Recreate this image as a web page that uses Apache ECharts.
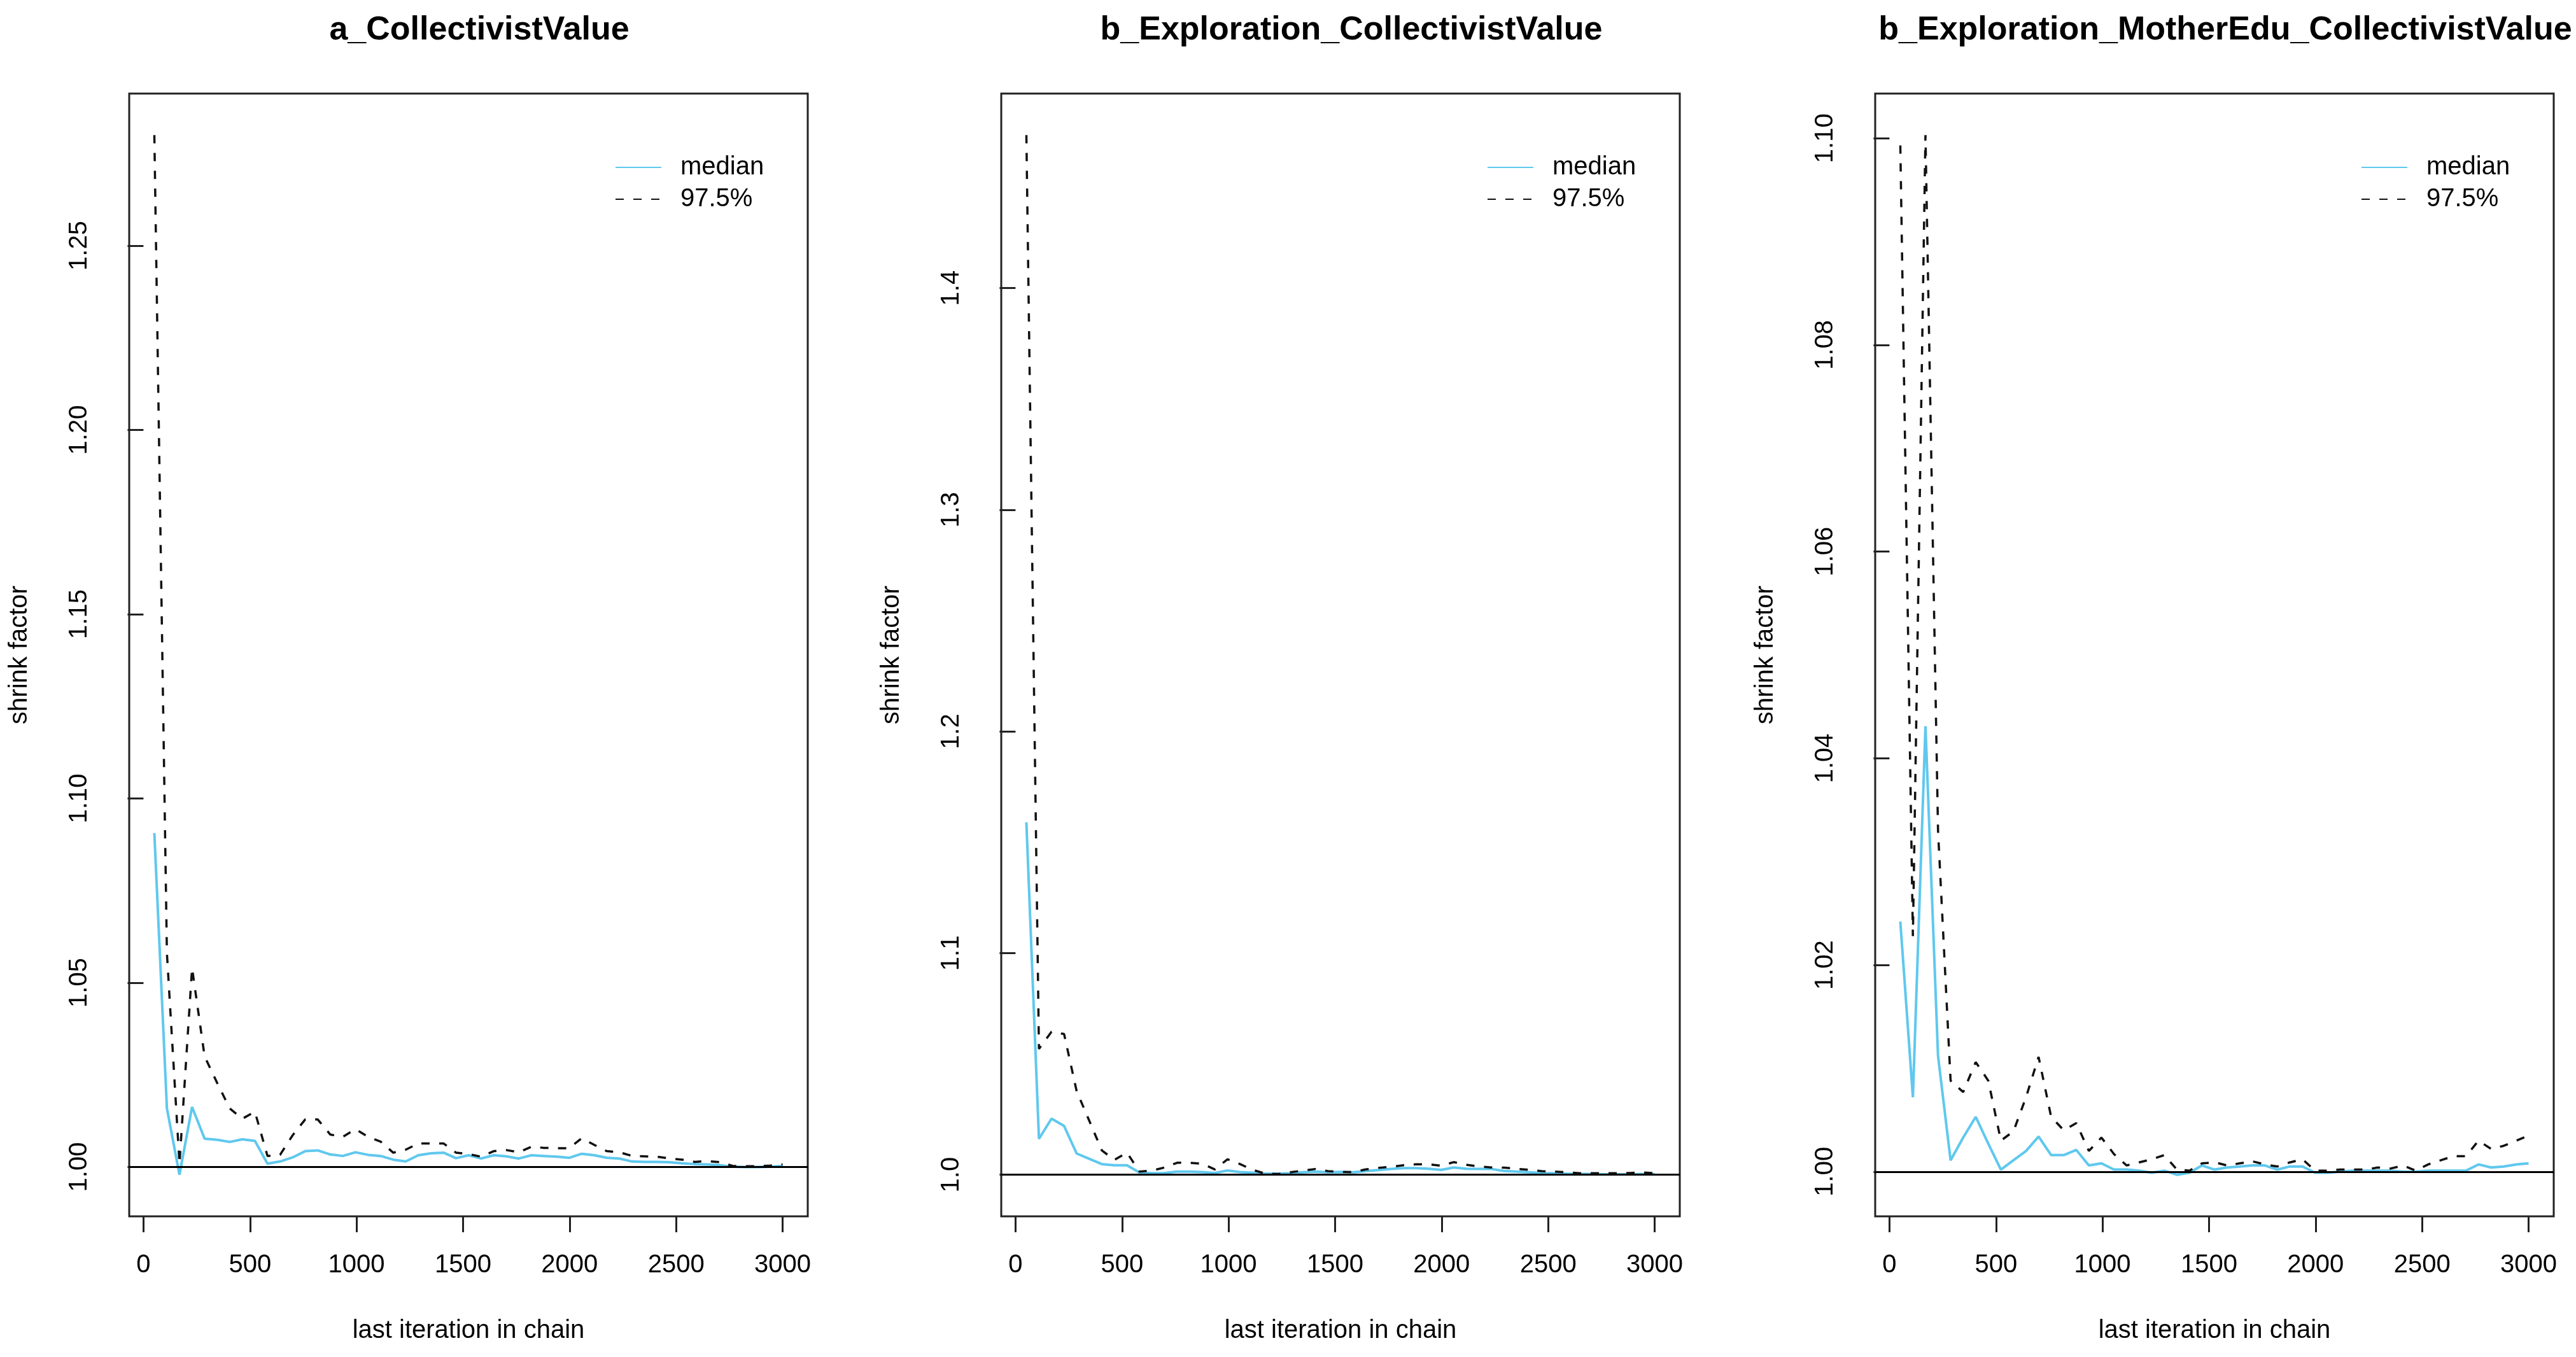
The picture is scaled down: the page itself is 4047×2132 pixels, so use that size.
<!DOCTYPE html>
<html>
<head>
<meta charset="utf-8">
<title>Gelman shrink factor plots</title>
<script src="https://cdn.jsdelivr.net/npm/echarts@6.0.0/dist/echarts.min.js"></script>
<style>
  html, body { margin: 0; padding: 0; background: #ffffff; }
  #chart { width: 4047px; height: 2132px; }
</style>
</head>
<body>
<div id="chart"></div>
<script>
// last iteration of each bin (x values, shared by all three panels)
const lastIteration = [
  51, 110, 169, 228, 287, 346, 405, 464, 523, 582, 641, 700, 759, 818, 877, 936, 995,
  1054, 1113, 1172, 1231, 1290, 1349, 1408, 1467, 1526, 1585, 1644, 1703, 1762, 1821,
  1880, 1939, 1998, 2057, 2116, 2175, 2234, 2293, 2352, 2411, 2470, 2529, 2588, 2647,
  2706, 2765, 2824, 2883, 2942, 3000
];
const xTicks = [0, 500, 1000, 1500, 2000, 2500, 3000];

const panelTitles = [
  'a_CollectivistValue',
  'b_Exploration_CollectivistValue',
  'b_Exploration_MotherEdu_CollectivistValue'
];

// a_CollectivistValue
const aMedian = [
  1.0906, 1.0159, 0.9979, 1.0163, 1.0077, 1.0074, 1.0068, 1.0075, 1.0071, 1.0009, 1.0015,
  1.0026, 1.0043, 1.0045, 1.0034, 1.0030, 1.0040, 1.0033, 1.0030, 1.0020, 1.0015, 1.0032,
  1.0037, 1.0039, 1.0024, 1.0032, 1.0023, 1.0032, 1.0029, 1.0023, 1.0032, 1.0030, 1.0028,
  1.0025, 1.0036, 1.0032, 1.0025, 1.0023, 1.0015, 1.0014, 1.0014, 1.0013, 1.0010, 1.0008,
  1.0007, 1.0005, 1.0001, 1.0000, 1.0000, 1.0001, 1.0003
];
const aUpper = [
  1.2800, 1.0580, 1.0009, 1.0540, 1.0300, 1.0228, 1.0159, 1.0131, 1.0150, 1.0030, 1.0033,
  1.0086, 1.0129, 1.0129, 1.0088, 1.0082, 1.0103, 1.0082, 1.0069, 1.0039, 1.0047, 1.0064,
  1.0064, 1.0064, 1.0039, 1.0035, 1.0028, 1.0043, 1.0046, 1.0040, 1.0055, 1.0052, 1.0051,
  1.0051, 1.0078, 1.0060, 1.0043, 1.0040, 1.0030, 1.0029, 1.0028, 1.0023, 1.0020, 1.0014,
  1.0016, 1.0013, 1.0003, 1.0002, 1.0002, 1.0004, 1.0007
];
const aTicks = [1.00, 1.05, 1.10, 1.15, 1.20, 1.25];

// b_Exploration_CollectivistValue
const bMedian = [
  1.1590, 1.0162, 1.0253, 1.0220, 1.0096, 1.0072, 1.0048, 1.0043, 1.0043, 1.0010, 1.0007,
  1.0008, 1.0014, 1.0014, 1.0012, 1.0008, 1.0019, 1.0012, 1.0009, 1.0005, 1.0005, 1.0007,
  1.0011, 1.0014, 1.0011, 1.0013, 1.0011, 1.0016, 1.0021, 1.0026, 1.0030, 1.0030, 1.0027,
  1.0022, 1.0033, 1.0027, 1.0026, 1.0026, 1.0017, 1.0014, 1.0011, 1.0008, 1.0007, 1.0005,
  1.0004, 1.0003, 1.0002, 1.0002, 1.0002, 1.0003, 1.0003
];
const bUpper = [
  1.4690, 1.0568, 1.0645, 1.0635, 1.0377, 1.0244, 1.0110, 1.0067, 1.0100, 1.0014, 1.0019,
  1.0033, 1.0054, 1.0054, 1.0050, 1.0024, 1.0070, 1.0048, 1.0022, 1.0005, 1.0003, 1.0011,
  1.0019, 1.0026, 1.0016, 1.0013, 1.0012, 1.0024, 1.0031, 1.0036, 1.0043, 1.0047, 1.0047,
  1.0041, 1.0057, 1.0045, 1.0037, 1.0033, 1.0032, 1.0027, 1.0022, 1.0016, 1.0014, 1.0011,
  1.0007, 1.0007, 1.0007, 1.0007, 1.0008, 1.0010, 1.0007
];
const bTicks = [1.0, 1.1, 1.2, 1.3, 1.4];

// b_Exploration_MotherEdu_CollectivistValue
const cMedian = [
  1.0242, 1.0072, 1.0431, 1.0112, 1.0011, 1.0033, 1.0053, 1.0027, 1.0002, 1.0011, 1.0020,
  1.0034, 1.0016, 1.0016, 1.0021, 1.0006, 1.0008, 1.0002, 1.0002, 1.0001, 0.9999, 1.0001,
  0.9997, 0.9999, 1.0006, 1.0002, 1.0004, 1.0005, 1.0006, 1.0006, 1.0002, 1.0005, 1.0005,
  0.9999, 0.9999, 1.0000, 1.0001, 1.0001, 1.0001, 1.0001, 1.0000, 1.0000, 1.0001, 1.0001,
  1.0001, 1.0001, 1.0007, 1.0004, 1.0005, 1.0007, 1.0008
];
const cUpper = [
  1.0993, 1.0228, 1.1003, 1.0330, 1.0088, 1.0077, 1.0106, 1.0088, 1.0030, 1.0039, 1.0072,
  1.0111, 1.0053, 1.0040, 1.0047, 1.0020, 1.0033, 1.0017, 1.0006, 1.0009, 1.0012, 1.0016,
  1.0002, 1.0001, 1.0008, 1.0009, 1.0006, 1.0008, 1.0010, 1.0007, 1.0005, 1.0009, 1.0012,
  1.0001, 1.0001, 1.0002, 1.0002, 1.0002, 1.0004, 1.0003, 1.0006, 1.0001, 1.0007, 1.0011,
  1.0015, 1.0015, 1.0030, 1.0022, 1.0025, 1.0030, 1.0035
];
const cTicks = [1.00, 1.02, 1.04, 1.06, 1.08, 1.10];

const panels = [
  { title: panelTitles[0], median: aMedian, upper: aUpper, ticks: aTicks, digits: 2 },
  { title: panelTitles[1], median: bMedian, upper: bUpper, ticks: bTicks, digits: 1 },
  { title: panelTitles[2], median: cMedian, upper: cUpper, ticks: cTicks, digits: 2 }
];

const FONT = '"Liberation Sans", Arial, Helvetica, sans-serif';
const MEDIAN_COLOR = '#5fc8ee';
const boxLeft = [203, 1573, 2946];
const boxTop = 147;
const boxWidth = 1066;
const boxHeight = 1764;

// R style axis range: data range stretched by 4% on each side
function rRange(values) {
  const lo = Math.min(...values);
  const hi = Math.max(...values);
  const pad = (hi - lo) * 0.04;
  return [lo - pad, hi + pad];
}

const xRange = rRange(lastIteration);

const chart = echarts.init(document.getElementById('chart'), null, { renderer: 'canvas' });

const grid = [], xAxis = [], yAxis = [], series = [], title = [], legend = [];

panels.forEach((p, i) => {
  const yRange = rRange([1].concat(p.median, p.upper));

  grid.push({
    left: boxLeft[i], top: boxTop, width: boxWidth, height: boxHeight,
    show: true, borderColor: '#222', borderWidth: 3, backgroundColor: 'transparent'
  });

  title.push({
    text: p.title,
    left: boxLeft[i] + boxWidth / 2 + 12,
    top: 17,
    textAlign: 'center',
    textStyle: { fontFamily: FONT, fontSize: 52, fontWeight: 'bold', color: '#000' }
  });

  xAxis.push({
    type: 'value', gridIndex: i, min: xRange[0], max: xRange[1],
    name: 'last iteration in chain', nameLocation: 'middle', nameGap: 160,
    nameTextStyle: { fontFamily: FONT, fontSize: 40, color: '#000' },
    axisLine: { show: false },
    splitLine: { show: false },
    axisTick: { show: true, inside: false, length: 25, customValues: xTicks,
      lineStyle: { color: '#222', width: 3 } },
    axisLabel: { customValues: xTicks, margin: 57, fontFamily: FONT, fontSize: 40, color: '#000',
      formatter: v => String(v) }
  });

  yAxis.push({
    type: 'value', gridIndex: i, min: yRange[0], max: yRange[1],
    name: 'shrink factor', nameLocation: 'middle', nameGap: 152,
    nameTextStyle: { fontFamily: FONT, fontSize: 40, color: '#000' },
    axisLine: { show: false },
    splitLine: { show: false },
    axisTick: { show: true, inside: false, length: 25, customValues: p.ticks,
      lineStyle: { color: '#222', width: 3 } },
    axisLabel: {
      customValues: p.ticks, rotate: 90, margin: 58,
      fontFamily: FONT, fontSize: 40, color: '#000',
      formatter: v => v.toFixed(p.digits)
    }
  });

  series.push({
    name: 'median', type: 'line', xAxisIndex: i, yAxisIndex: i,
    data: lastIteration.map((x, k) => [x, p.median[k]]),
    showSymbol: false, symbol: 'none',
    lineStyle: { color: MEDIAN_COLOR, width: 4 },
    itemStyle: { color: MEDIAN_COLOR }
  });

  series.push({
    name: '97.5%', type: 'line', xAxisIndex: i, yAxisIndex: i,
    data: lastIteration.map((x, k) => [x, p.upper[k]]),
    showSymbol: false, symbol: 'none',
    lineStyle: { color: '#111', width: 3.5, type: [13, 15] },
    itemStyle: { color: '#111' },
    markLine: {
      silent: true, symbol: ['none', 'none'], animation: false,
      label: { show: false },
      lineStyle: { color: '#000', width: 3, type: 'solid' },
      data: [{ yAxis: 1 }]
    }
  });

  legend.push({
    data: ['median', '97.5%'],
    orient: 'vertical',
    left: boxLeft[i] + boxWidth - 308,
    top: 238,
    itemWidth: 72, itemHeight: 20, itemGap: 10,
    selectedMode: false,
    itemStyle: { opacity: 0 },
    textStyle: { fontFamily: FONT, fontSize: 40, color: '#000', lineHeight: 40,
      padding: [0, 0, 0, 25] }
  });
});

chart.setOption({
  animation: false,
  backgroundColor: '#ffffff',
  title, legend, grid, xAxis, yAxis, series
});
</script>
</body>
</html>
